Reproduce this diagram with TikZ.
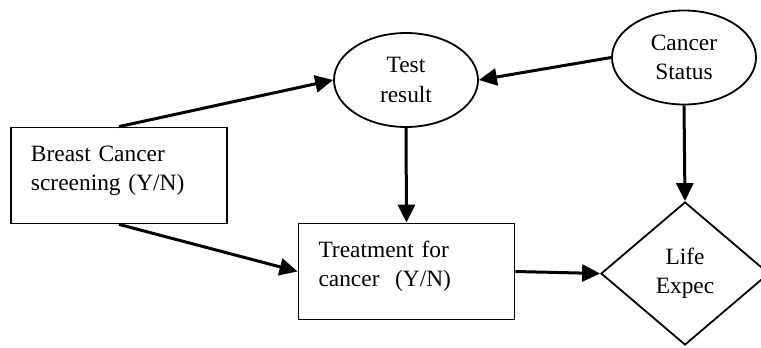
\documentclass[tikz,border=0pt]{standalone}
\usepackage{fontspec}
\setmainfont{Liberation Serif}
\usetikzlibrary{shapes.geometric,arrows.meta}

\begin{document}
\begin{tikzpicture}[x=0.5pt,y=-0.5pt,>={Triangle[length=9pt,width=8.5pt]},
    every node/.style={font=\fontsize{11.7}{14.7}\selectfont,line width=0.9pt},
    choicebox/.style={draw,rectangle,minimum width=108pt,minimum height=48pt,
      text width=88pt,inner xsep=10pt,align=left,execute at end node=\vspace{5pt}},
    chancenode/.style={draw,ellipse,minimum width=72pt,minimum height=47pt,inner sep=0pt,align=center},
    valuenode/.style={draw,diamond,minimum width=84pt,minimum height=71.5pt,inner sep=0pt,align=center},
    link/.style={->,line width=1.5pt}]
    \useasboundingbox (0,0) rectangle (761,348);

    \node[choicebox] (screening) at (119,175.5) {Breast Cancer\\screening (Y/N)};
    \node[choicebox] (treatment) at (406.5,271.5) {Treatment for\\cancer~ (Y/N)};
    \node[chancenode] (testresult) at (406,80) {Test\\result};
    \node[chancenode] (status) at (684,57.5) {Cancer\\Status};
    \node[valuenode] (lifeexp) at (685,273.5) {Life\\Expec};

    \draw[link] (screening.north) -- (testresult.west);
    \draw[link] (screening.south) -- (treatment.west);
    \draw[link] (status.west) -- (testresult.east);
    \draw[link] (testresult.south) -- (treatment.north);
    \draw[link] (status.south) -- (lifeexp.north);
    \draw[link] (treatment.east) -- (lifeexp.west);

  \end{tikzpicture}
\end{document}
